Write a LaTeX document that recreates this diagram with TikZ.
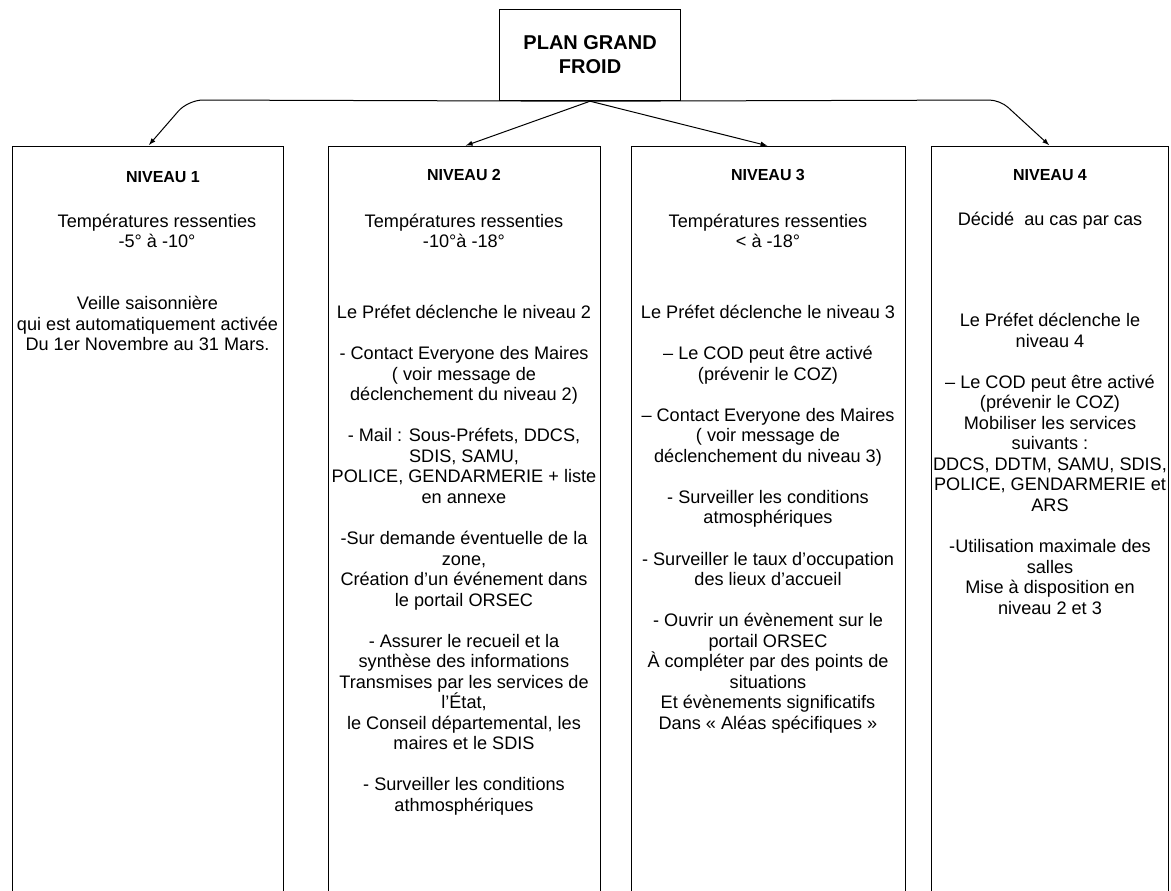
\documentclass[tikz,border=0pt]{standalone}
\usepackage{fontspec}
\setmainfont{Liberation Sans}
\usetikzlibrary{arrows}
\usetikzlibrary{positioning}

\begin{document}
\begin{tikzpicture}[x=0.75pt, y=-0.75pt,
    every node/.style={inner sep=0pt, font=\fontsize{13.6}{15.4}\selectfont},
    planbox/.style={draw, line width=0.9pt, anchor=north west, align=center,
      minimum width=135.75pt, minimum height=68.25pt,
      font=\fontsize{15}{18}\selectfont\bfseries},
    levelbox/.style={draw, line width=0.9pt, anchor=north west, minimum height=600pt},
    niveau/.style={font=\fontsize{12}{14}\selectfont\bfseries},
    temp/.style={align=center},
    body/.style={align=center, anchor=north},
    conn/.style={-latex, line width=0.75pt, shorten >=1pt}]
    \useasboundingbox (0,0) rectangle (1171,890);
    \clip (0,0) rectangle (1171,890);
    \node[planbox] (plan) at (499,9) {PLAN GRAND\\FROID};
    \node[levelbox, minimum width=203.25pt] (n1) at (12,146) {};
    \node[levelbox, minimum width=204pt] (n2) at (328,146) {};
    \node[levelbox, minimum width=205.5pt] (n3) at (631,146) {};
    \node[levelbox, minimum width=177.75pt] (n4) at (931,146) {};
    % fleches
    \draw[conn, rounded corners=11pt] (plan.south) -- (188,100) -- (n1.north);
    \draw[conn] (plan.south) -- (n2.north);
    \draw[conn] (plan.south) -- (n3.north);
    \draw[conn, rounded corners=8pt] (plan.south) -- (1000,100) -- (n4.north);
    % niveau 1
    \node[niveau] (t1) at (163,177) {NIVEAU 1};
    \node[temp] (s1) at (157,231) {Températures ressenties\\-5° à -10°};
    \node[body] (b1) at (147.5,295) {\strut Veille saisonnière\\
      qui est automatiquement activée\\Du 1er Novembre au 31 Mars.};
    % niveau 2
    \node[niveau] (t2) at (464,175) {NIVEAU 2};
    \node[temp] (s2) at (464,231) {Températures ressenties\\-10°à -18°};
    \node[body] (b2) at (464,304) {\strut Le Préfet déclenche le niveau 2\\[15.4pt]
      - Contact Everyone des Maires\\( voir message de\\déclenchement du niveau 2)\\[15.4pt]
      - Mail : Sous-Préfets, DDCS,\\SDIS, SAMU,\\POLICE, GENDARMERIE + liste\\en annexe\\[15.4pt]
      -Sur demande éventuelle de la\\zone,\\Création d'un événement dans\\le portail ORSEC\\[15.4pt]
      - Assurer le recueil et la\\synthèse des informations\\Transmises par les services de\\l'État,\\
      le Conseil départemental, les\\maires et le SDIS\\[15.4pt]
      - Surveiller les conditions\\athmosphériques};
    % niveau 3
    \node[niveau] (t3) at (768,175) {NIVEAU 3};
    \node[temp] (s3) at (768,231) {Températures ressenties\\< à -18°};
    \node[body] (b3) at (768,304) {\strut Le Préfet déclenche le niveau 3\\[15.4pt]
      – Le COD peut être activé\\(prévenir le COZ)\\[15.4pt]
      – Contact Everyone des Maires\\( voir message de\\déclenchement du niveau 3)\\[15.4pt]
      - Surveiller les conditions\\atmosphériques\\[15.4pt]
      - Surveiller le taux d'occupation\\des lieux d'accueil\\[15.4pt]
      - Ouvrir un évènement sur le\\portail ORSEC\\À compléter par des points de\\situations\\
      Et évènements significatifs\\Dans « Aléas spécifiques »};
    % niveau 4
    \node[niveau] (t4) at (1050,175) {NIVEAU 4};
    \node[temp] (s4) at (1050,221) {Décidé~ au cas par cas};
    \node[body] (b4) at (1050,312) {\strut Le Préfet déclenche le\\niveau 4\\[15.4pt]
      – Le COD peut être activé\\(prévenir le COZ)\\Mobiliser les services\\suivants :\\
      DDCS, DDTM, SAMU, SDIS,\\POLICE, GENDARMERIE et\\ARS\\[15.4pt]
      -Utilisation maximale des\\salles\\Mise à disposition en\\niveau 2 et 3};
\end{tikzpicture}
\end{document}
